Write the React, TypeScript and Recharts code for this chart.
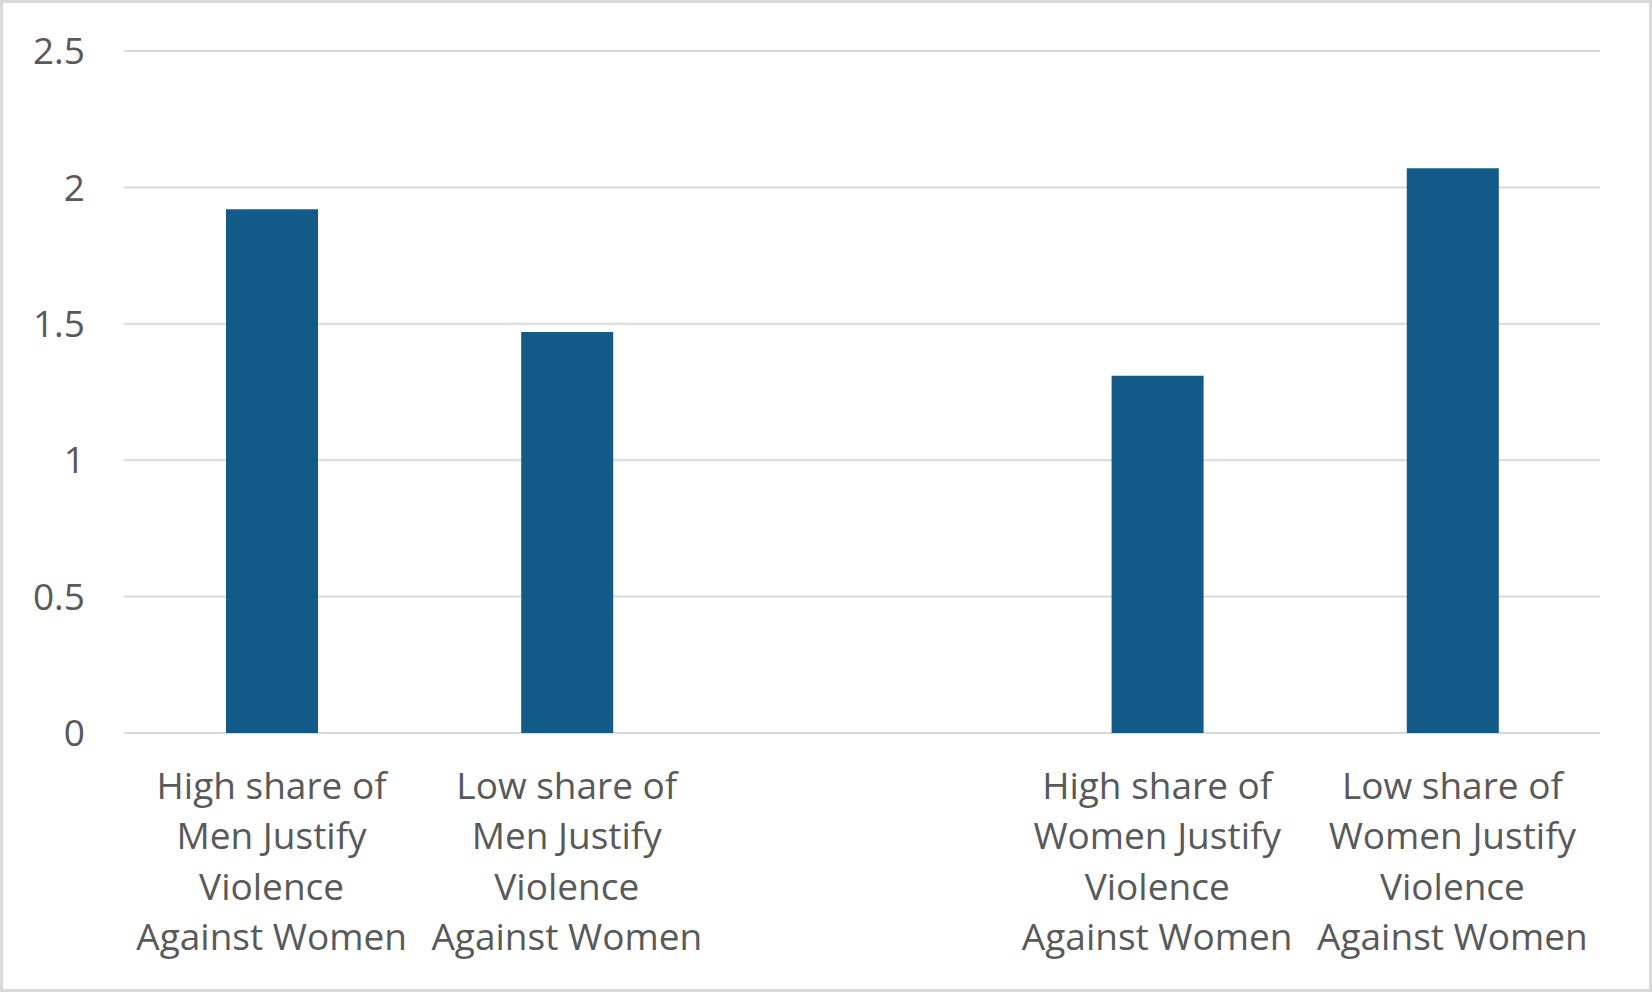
import React from "react";
import { BarChart, Bar, XAxis, YAxis, CartesianGrid } from "recharts";

const categories: string[] = [
  "High share of\nMen Justify\nViolence\nAgainst Women",
  "Low share of\nMen Justify\nViolence\nAgainst Women",
  "",
  "High share of\nWomen Justify\nViolence\nAgainst Women",
  "Low share of\nWomen Justify\nViolence\nAgainst Women",
];

const values: (number | null)[] = [1.92, 1.47, null, 1.31, 2.07];

const yTicks: number[] = [0, 0.5, 1, 1.5, 2, 2.5];

const data = categories.map((c, i) => ({ name: c, value: values[i], key: `c${i}` }));

const FONT = "'Open Sans', 'Noto Sans', sans-serif";
const TEXT_COLOR = "#595959";

const XTick = (props: any) => {
  const { x, y, payload } = props;
  const idx = payload.index;
  const label = categories[idx] || "";
  const lines = label ? label.split("\n") : [];
  return (
    <text
      x={x}
      y={y}
      textAnchor="middle"
      fill={TEXT_COLOR}
      fontSize={37}
      fontFamily={FONT}
    >
      {lines.map((l, i) => (
        <tspan key={i} x={x} dy={i === 0 ? 66 : 50.4}>
          {l}
        </tspan>
      ))}
    </text>
  );
};

export default function App() {
  return (
    <div
      style={{
        position: "fixed",
        top: 0,
        left: 0,
        width: 1652,
        height: 992,
        background: "#ffffff",
      }}
    >
      <BarChart
        width={1652}
        height={992}
        data={data}
        margin={{ top: 51, right: 52, left: 0, bottom: 0 }}
      >
        <CartesianGrid
          horizontal={true}
          vertical={false}
          stroke="#d9d9d9"
          strokeWidth={2}
        />
        <XAxis
          dataKey="key"
          height={259}
          axisLine={false}
          tickLine={false}
          tickSize={0}
          tickMargin={0}
          interval={0}
          tick={<XTick />}
        />
        <YAxis
          domain={[0, 2.5]}
          ticks={yTicks}
          width={124}
          axisLine={false}
          tickLine={false}
          tickSize={0}
          tickMargin={39}
          tick={{ fill: TEXT_COLOR, fontSize: 37, fontFamily: FONT }}
        />
        <Bar dataKey="value" fill="#125A87" barSize={92} isAnimationActive={false} />
      </BarChart>
      <div
        style={{
          position: "absolute",
          top: 0,
          left: 0,
          width: 1652,
          height: 992,
          boxSizing: "border-box",
          border: "3px solid #d9d9d9",
          pointerEvents: "none",
        }}
      />
    </div>
  );
}
